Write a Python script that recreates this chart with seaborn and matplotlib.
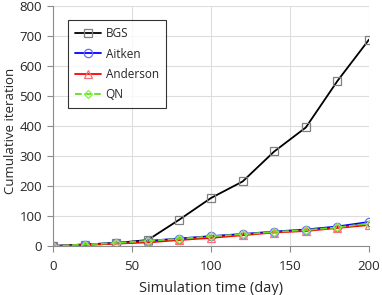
import seaborn as sns
import matplotlib.pyplot as plt
import pandas as pd

# Данные
days = [0, 20, 40, 60, 80, 100, 120, 140, 160, 180, 200]
bgs = [0, 5, 10, 20, 88, 160, 215, 315, 395, 550, 688]
aitken = [0, 5, 10, 17, 25, 33, 40, 48, 55, 65, 80]
anderson = [0, 3, 8, 12, 20, 27, 36, 45, 50, 60, 70]
qn = [0, 5, 10, 17, 24, 32, 39, 47, 53, 62, 75]

df = pd.DataFrame({'day': days, 'BGS': bgs, 'Aitken': aitken,
                   'Anderson': anderson, 'QN': qn})
df = df.melt(id_vars='day', var_name='method', value_name='iter')

sns.set_style('white')
plt.rcParams['font.family'] = ['Open Sans', 'DejaVu Sans']

fig = plt.figure(figsize=(3.82, 2.95), dpi=100)
ax = fig.add_axes([53 / 382, 49 / 295, 316 / 382, 240 / 295])

styles = {
    'BGS': dict(color='black', marker='s', mec='#808080', ls='-'),
    'Aitken': dict(color='blue', marker='o', mec='#6a6aff', ls='-'),
    'Anderson': dict(color='red', marker='^', mec='#ff7070', ls='-'),
    'QN': dict(color='#66dd22', marker='D', mec='#88ee55', ls='--'),
}
for name, st in styles.items():
    sub = df[df['method'] == name]
    sns.lineplot(data=sub, x='day', y='iter', ax=ax, label=name,
                 color=st['color'], linestyle=st['ls'], linewidth=1.3,
                 marker=st['marker'], markersize=6 if st['marker'] != 'D' else 4.5,
                 markerfacecolor='none', markeredgecolor=st['mec'],
                 markeredgewidth=0.9)

ax.set_xlim(0, 200)
ax.set_ylim(0, 800)
ax.set_xticks([0, 50, 100, 150, 200])
ax.set_yticks(range(0, 801, 100))
ax.grid(True, color='#dddddd', linewidth=0.8)
for s in ['top', 'right']:
    ax.spines[s].set_visible(False)
for s in ['left', 'bottom']:
    ax.spines[s].set_color('#8c8c8c')
ax.tick_params(axis='both', direction='out', length=4, color='#8c8c8c',
               labelsize=9.5, left=True, bottom=True)
ax.tick_params(axis='y', pad=4)
ax.tick_params(axis='x', pad=6)
ax.set_xlabel('Simulation time (day)', fontsize=10.5, labelpad=6)
ax.set_ylabel('Cumulative iteration', fontsize=9.5)
ax.yaxis.set_label_coords(-36 / 316, 0.48)

leg = ax.legend(loc='upper left', bbox_to_anchor=(0.047, 0.94), fontsize=8.5,
                frameon=True, fancybox=False, edgecolor='black',
                handlelength=2.2, handletextpad=0.4, borderpad=0.6,
                labelspacing=0.6, borderaxespad=0)
leg.get_frame().set_linewidth(0.8)

fig.savefig('out.png', dpi=100)
